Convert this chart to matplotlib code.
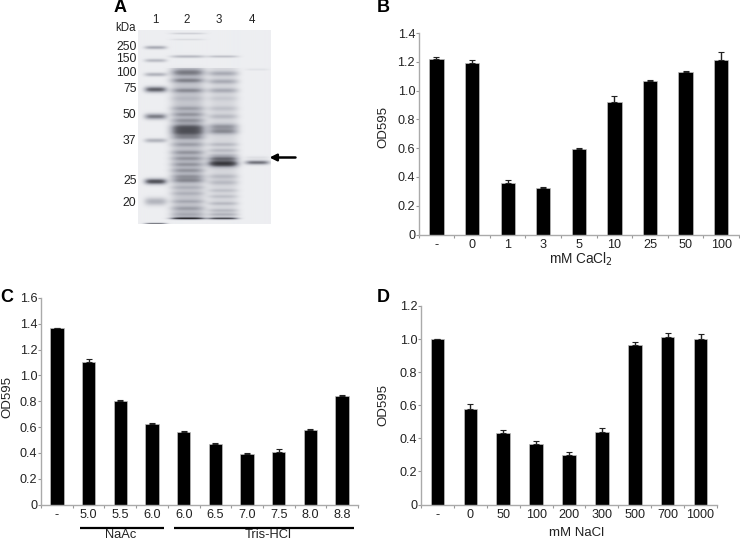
import numpy as np
import matplotlib
matplotlib.use('Agg')
import matplotlib.pyplot as plt
from matplotlib.colors import LinearSegmentedColormap

plt.rcParams['font.family'] = ['Liberation Sans', 'DejaVu Sans']

# panel B
b_labels = ['-', '0', '1', '3', '5', '10', '25', '50', '100']
b_values = [1.22, 1.195, 0.36, 0.32, 0.595, 0.92, 1.065, 1.13, 1.21]
b_errors = [0.015, 0.02, 0.02, 0.01, 0.008, 0.045, 0.008, 0.008, 0.055]
b_ticks = [0, 0.2, 0.4, 0.6, 0.8, 1.0, 1.2, 1.4]

# panel C
c_labels = ['-', '5.0', '5.5', '6.0', '6.0', '6.5', '7.0', '7.5', '8.0', '8.8']
c_values = [1.365, 1.105, 0.805, 0.62, 0.565, 0.465, 0.39, 0.41, 0.58, 0.84]
c_errors = [0.005, 0.02, 0.003, 0.012, 0.003, 0.012, 0.01, 0.02, 0.003, 0.012]
c_ticks = [0, 0.2, 0.4, 0.6, 0.8, 1.0, 1.2, 1.4, 1.6]

# panel D
d_labels = ['-', '0', '50', '100', '200', '300', '500', '700', '1000']
d_values = [1.0, 0.575, 0.43, 0.365, 0.30, 0.44, 0.965, 1.015, 1.0]
d_errors = [0.003, 0.03, 0.02, 0.02, 0.015, 0.02, 0.02, 0.02, 0.03]
d_ticks = [0, 0.2, 0.4, 0.6, 0.8, 1.0, 1.2]

# gel: (row from top of gel, darkness, thickness) per lane
lane_numbers = ['1', '2', '3', '4']
lane_centers = [17, 49, 84, 118]
lane_widths = [11, 17, 15, 12]
lane_1 = [(17, .45, 1.8), (30, .35, 1.8), (44, .4, 2), (59, .85, 3), (86, .7, 3), (110, .4, 2.2),
          (151, .95, 3), (171, .4, 4), (193, .7, .8)]
lane_2 = [(3, .2, 1), (9, .12, 1), (26, .35, 1.5), (42, .45, 3.5), (50, .4, 2.5), (60, .35, 2.5), (68, .1, 2.5),
          (78, .25, 2.5), (84, .3, 2.5), (90, .3, 2.5), (97, .6, 3.5), (102, .6, 3.5), (107, .3, 2.5), (114, .25, 2.5),
          (122, .3, 2.5), (128, .3, 2.5), (134, .3, 2.5), (140, .3, 2.5), (146, .3, 2.5), (150, .35, 2.5),
          (157, .15, 2), (163, .15, 2), (171, .2, 2), (178, .25, 2.5), (184, .2, 2.5), (188, .95, 1.2)]
lane_3 = [(26, .3, 1.3), (43, .3, 2.5), (51, .3, 2.5), (60, .3, 2.5), (68, .1, 2.5), (78, .15, 2.5), (86, .2, 2.5),
          (96, .4, 3), (101, .45, 3), (114, .2, 2), (120, .2, 2), (125, .25, 2),
          (128, .5, 2), (133, 1.0, 3.5), (146, .2, 2.5), (152, .2, 2.5), (160, .15, 1.8), (166, .15, 1.8),
          (173, .2, 1.8), (180, .2, 1.8), (184, .25, 1.8), (188, .85, 1.2)]
lane_4 = [(39, .08, 1.2), (127, .1, 1.5), (132, .75, 2.2)]
gel_lanes = [lane_1, lane_2, lane_3, lane_4]
# diffuse stain behind the bands of each lane: first row, last row, darkness
lane_smear = [(0, 0, 0), (38, 188, .28), (38, 188, .16), (0, 0, 0)]
ladder_labels = ['250', '150', '100', '75', '50', '37', '25', '20']
ladder_rows = [17, 28, 42, 59, 85, 110, 150, 172]

W, H = 740, 541


def add_axes_px(x0, y0, x1, y1):
    return fig.add_axes([x0 / W, 1 - y1 / H, (x1 - x0) / W, (y1 - y0) / H])


def bar_panel(ax, labels, values, errors, ticks, width):
    x = np.arange(len(labels))
    ax.bar(x, values, width=width, color='black', edgecolor='#bdbdbd', linewidth=0.5)
    ax.errorbar(x, values, yerr=[np.zeros(len(x)), errors], fmt='none', ecolor='#222222',
                elinewidth=1, capsize=2.5, capthick=0.8)
    ax.set_xlim(-0.5, len(labels) - 0.5)
    ax.set_ylim(0, ticks[-1])
    ax.set_yticks(ticks)
    ax.set_yticklabels(['0' if t == 0 else '%.1f' % t for t in ticks])
    ax.set_xticks(np.arange(len(labels) + 1) - 0.5)
    ax.set_xticklabels([])
    ax.tick_params(axis='x', length=2, width=0.8, color='#999999')
    ax.tick_params(axis='y', length=2, width=0.8, color='#999999', labelsize=9.1, pad=0.6, labelcolor='#222222')
    for i, lab in enumerate(labels):
        ax.annotate(lab, (i, 0), xytext=(0, -3.5), textcoords='offset points', ha='center', va='top',
                    fontsize=9.1, color='#222222')
    for s in ['top', 'right']:
        ax.spines[s].set_visible(False)
    for s in ['left', 'bottom']:
        ax.spines[s].set_color('#aaaaaa')
        ax.spines[s].set_linewidth(1)


fig = plt.figure(figsize=(W / 100, H / 100), dpi=100)

# A
ax_a = add_axes_px(138, 30, 270, 224)
yy, xx = np.mgrid[0:194, 0:132]
dark = np.zeros((194, 132))
for center, half, bands, smear in zip(lane_centers, lane_widths, gel_lanes, lane_smear):
    profile = np.exp(-((xx - center) / half) ** 4)
    dark += smear[2] * profile * ((yy >= smear[0]) & (yy <= smear[1]))
    for row, amount, thick in bands:
        dark += amount * profile * np.exp(-((yy - row) / thick) ** 2)
img = np.clip(dark, 0, 1.3) / 1.3
gel_cmap = LinearSegmentedColormap.from_list('gel', ['#edeef1', '#aeb0b9', '#5f6068', '#26262a'])
ax_a.imshow(img, cmap=gel_cmap, vmin=0, vmax=1, aspect='auto', interpolation='bilinear')
ax_a.axis('off')

fig.text(114 / W, 1 - 8 / H, 'A', fontsize=13, fontweight='bold', ha='left', va='center')
fig.text(136 / W, 1 - 28 / H, 'kDa', fontsize=8.3, ha='right', va='center', color='#222222')
for lab, px in zip(lane_numbers, [155, 187, 219, 252]):
    fig.text(px / W, 1 - 20 / H, lab, fontsize=8.3, ha='center', va='center', color='#222222')
for lab, row in zip(ladder_labels, ladder_rows):
    ax_a.text(-2, row, lab, fontsize=8.8, ha='right', va='center', color='#222222', clip_on=False)
ax_a.annotate('', xy=(131, 127), xytext=(157, 127), annotation_clip=False,
              arrowprops=dict(arrowstyle='-|>', color='black', lw=1.8, mutation_scale=10,
                              shrinkA=0, shrinkB=0))

# B
ax_b = add_axes_px(418.7, 33, 739, 234.5)
bar_panel(ax_b, b_labels, b_values, b_errors, b_ticks, 0.4)
fig.text(383 / W, 1 - 127 / H, 'OD595', fontsize=9.5, rotation=90, ha='center', va='center', color='#222222')
fig.text(581 / W, 1 - 259 / H, 'mM CaCl$_2$', fontsize=9.8, ha='center', va='center', color='#222222')
fig.text(377 / W, 1 - 7 / H, 'B', fontsize=13, fontweight='bold', ha='left', va='center')

# C
ax_c = add_axes_px(41, 298, 358, 504.5)
bar_panel(ax_c, c_labels, c_values, c_errors, c_ticks, 0.42)
fig.text(7 / W, 1 - 397 / H, 'OD595', fontsize=9.5, rotation=90, ha='center', va='center', color='#222222')
fig.text(0 / W, 1 - 297 / H, 'C', fontsize=13, fontweight='bold', ha='left', va='center')
for x0, x1, xt, lab in [(0.73, 3.38, 2.02, 'NaAc'), (3.70, 9.37, 6.66, 'Tris-HCl')]:
    ax_c.plot([x0, x1], [-0.179, -0.179], color='black', lw=1.6, clip_on=False, solid_capstyle='butt')
    ax_c.text(xt, -0.192, lab, fontsize=9.3, ha='center', va='top', color='#222222')

# D
ax_d = add_axes_px(421, 306, 717, 504.5)
bar_panel(ax_d, d_labels, d_values, d_errors, d_ticks, 0.41)
fig.text(383 / W, 1 - 405 / H, 'OD595', fontsize=9.5, rotation=90, ha='center', va='center', color='#222222')
fig.text(577 / W, 1 - 533 / H, 'mM NaCl', fontsize=9.5, ha='center', va='center', color='#222222')
fig.text(377 / W, 1 - 298 / H, 'D', fontsize=13, fontweight='bold', ha='left', va='center')

fig.savefig('out.png', dpi=100)
